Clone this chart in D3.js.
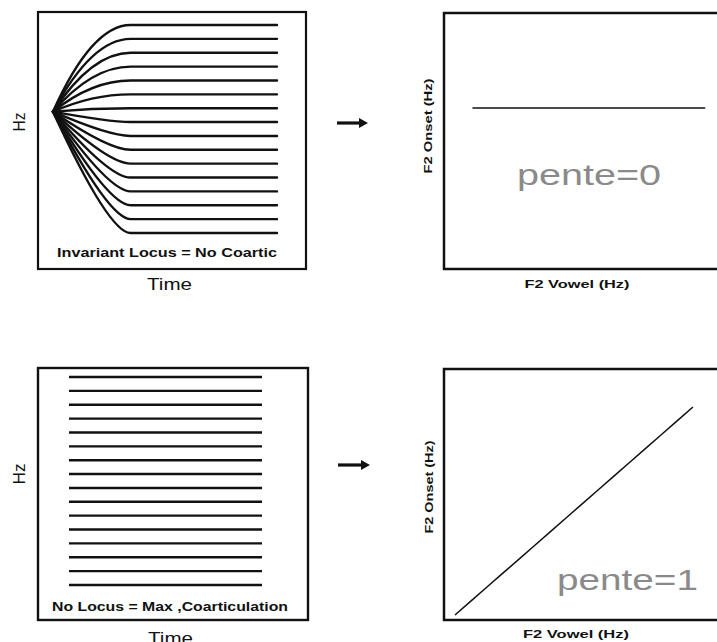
<!DOCTYPE html>
<html>
<head>
<meta charset="utf-8">
<script src="https://cdn.jsdelivr.net/npm/d3@7"></script>
<style>
  body { margin: 0; background: #fff; }
  text { font-family: "Liberation Sans", Arial, sans-serif; }
</style>
</head>
<body>
<div id="chart"></div>
<script>
// Locus schematic: F2 transitions (left) and locus equations (right)

// F2 of the vowel targets (Hz), top to bottom
var vowelF2 = [2500, 2380, 2260, 2140, 2020, 1900, 1780, 1660, 1540, 1420, 1300, 1180, 1060, 940, 820, 700];
var locusF2 = 1750;            // invariant locus (Hz)
var timePoints = [0, 52, 150]; // onset, end of transition, end of vowel (ms)
var panelLabels = ["Invariant Locus = No Coartic", "No Locus = Max ,Coarticulation"];
var slopeLabels = ["pente=0", "pente=1"];

var width = 717, height = 642;

var svg = d3.select("#chart").append("svg")
    .attr("width", width)
    .attr("height", height);

svg.append("rect").attr("width", width).attr("height", height).attr("fill", "#fff");

// ---- panel frames
function frame(x0, y0, x1, y1, sw) {
    svg.append("rect")
        .attr("x", x0).attr("y", y0)
        .attr("width", x1 - x0).attr("height", y1 - y0)
        .attr("fill", "none")
        .attr("stroke", "#111")
        .attr("stroke-width", sw);
}
frame(38, 12, 306, 269, 2.2);
frame(444, 13, 760, 269, 2.5);
frame(38, 368, 308, 620, 2.4);
frame(444, 369, 760, 620, 2.5);

// ---- top left: transitions converging on a locus
var xT = d3.scaleLinear().domain([0, 150]).range([53, 277]);
var yT = d3.scaleLinear().domain([700, 2500]).range([233, 25]);

// transition = ease-out curve from locus to vowel target, then steady state
function transition(v) {
    var p = d3.path();
    var x0 = xT(timePoints[0]), x1 = xT(timePoints[1]), x2 = xT(timePoints[2]);
    var y0 = yT(locusF2), y1 = yT(v);
    var bend = v >= locusF2 ? 0.5 : 0.72;
    p.moveTo(x0, y0);
    p.quadraticCurveTo(x0 + (x1 - x0) * bend, y1, x1, y1);
    p.lineTo(x2, y1);
    return p.toString();
}

svg.append("g").selectAll("path")
    .data(vowelF2)
    .enter().append("path")
    .attr("d", transition)
    .attr("fill", "none")
    .attr("stroke", "#111")
    .attr("stroke-width", 2.4)
    .attr("stroke-linecap", "round");

// ---- bottom left: flat formants, no transition
var xB = d3.scaleLinear().domain([0, 150]).range([69, 262]);
var yB = d3.scaleLinear().domain([700, 2500]).range([585, 377]);

svg.append("g").selectAll("line")
    .data(vowelF2)
    .enter().append("line")
    .attr("x1", xB(timePoints[0]))
    .attr("x2", xB(timePoints[2]))
    .attr("y1", function (v) { return yB(v); })
    .attr("y2", function (v) { return yB(v); })
    .attr("stroke", "#111")
    .attr("stroke-width", 2.4);

// ---- top right: onset vs vowel, slope 0
var xR1 = d3.scaleLinear().domain([480, 2800]).range([444, 744]);
var yR1 = d3.scaleLinear().domain([360, 2570]).range([269, 13]);
var pts1 = vowelF2.map(function (v) { return [v, locusF2]; });

svg.append("path")
    .attr("d", d3.line()
        .x(function (d) { return xR1(d[0]); })
        .y(function (d) { return yR1(d[1]); })(pts1))
    .attr("fill", "none")
    .attr("stroke", "#111")
    .attr("stroke-width", 1.6);

// ---- bottom right: onset = vowel, slope 1
var xR2 = d3.scaleLinear().domain([617, 2886]).range([444, 744]);
var yR2 = d3.scaleLinear().domain([657, 2829]).range([620, 369]);
var pts2 = vowelF2.map(function (v) { return [v, v]; });

svg.append("path")
    .attr("d", d3.line()
        .x(function (d) { return xR2(d[0]); })
        .y(function (d) { return yR2(d[1]); })(pts2))
    .attr("fill", "none")
    .attr("stroke", "#111")
    .attr("stroke-width", 1.5);

// ---- arrows
function arrow(x0, x1, y) {
    svg.append("line")
        .attr("x1", x0).attr("x2", x1 - 6)
        .attr("y1", y).attr("y2", y)
        .attr("stroke", "#111").attr("stroke-width", 3.2);
    svg.append("path")
        .attr("d", "M" + (x1 - 9) + "," + (y - 5) + "L" + x1 + "," + y + "L" + (x1 - 9) + "," + (y + 5) + "Z")
        .attr("fill", "#111");
}
arrow(337, 368, 123);
arrow(338, 370, 465);

// ---- text
function label(txt, x, y, size, weight, len, rot, fill) {
    var t = svg.append("text")
        .attr("text-anchor", "middle")
        .attr("font-size", size)
        .attr("font-weight", weight)
        .attr("fill", fill || "#111")
        .text(txt);
    if (rot) {
        t.attr("transform", "translate(" + x + "," + y + ") rotate(-90)");
    } else {
        t.attr("x", x).attr("y", y);
    }
    if (len) t.attr("textLength", len).attr("lengthAdjust", "spacingAndGlyphs");
    return t;
}

label(panelLabels[0], 167, 257, 12, "bold", 220);
label(panelLabels[1], 170, 611, 12, "bold", 236);
label("Time", 169.5, 290, 16.5, "normal", 45);
label("Time", 170.5, 644, 16.5, "normal", 45);
label("Hz", 25, 122, 16.5, "normal", 19, true);
label("Hz", 25, 474, 16.5, "normal", 21, true);

label("F2 Onset (Hz)", 432, 126, 11, "bold", 95, true);
label("F2 Onset (Hz)", 433, 487, 11, "bold", 93, true);
label("F2 Vowel (Hz)", 577, 288, 11, "bold", 105);
label("F2 Vowel (Hz)", 576, 638, 11, "bold", 106);

label(slopeLabels[0], 589, 185, 30, "normal", 144, false, "#8a8a8a");
label(slopeLabels[1], 627.5, 590, 30, "normal", 141, false, "#8a8a8a");
</script>
</body>
</html>
